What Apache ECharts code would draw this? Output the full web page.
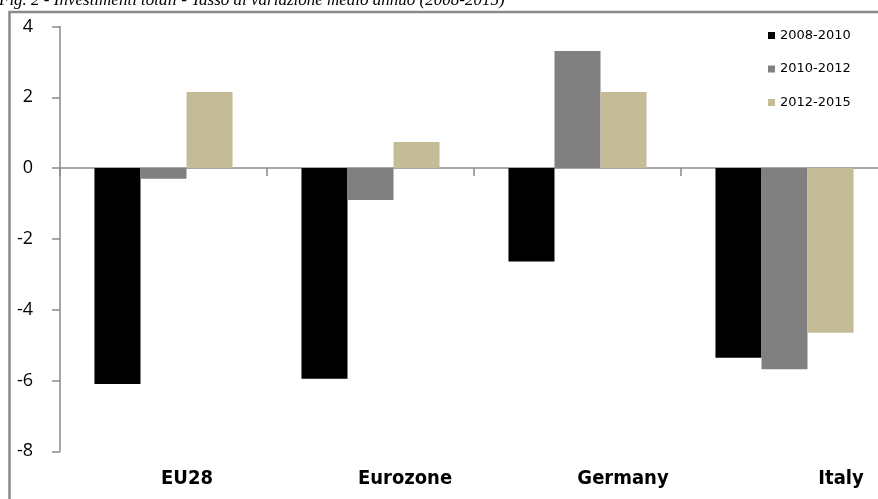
<!DOCTYPE html>
<html>
<head>
<meta charset="utf-8">
<script src="https://cdn.jsdelivr.net/npm/echarts@6/dist/echarts.min.js"></script>
<style>html,body{margin:0;padding:0;background:#fff;overflow:hidden;width:878px;height:499px;}#c{width:960px;height:499px;}</style>
</head>
<body>
<div id="c"></div>
<script>
var categories = ['EU28', 'Eurozone', 'Germany', 'Italy'];
var seriesNames = ['2008-2010', '2010-2012', '2012-2015'];
var s2008_2010 = [-6.10, -5.95, -2.64, -5.36];
var s2010_2012 = [-0.30, -0.90, 3.31, -5.68];
var s2012_2015 = [2.15, 0.74, 2.15, -4.65];
var yTicks = [-8, -6, -4, -2, 0, 2, 4];
var colors = ['#000000', '#808080', '#c4bc96'];

var chart = echarts.init(document.getElementById('c'), null, {renderer: 'canvas'});
var values = [s2008_2010, s2010_2012, s2012_2015];
var series = seriesNames.map(function (n, i) {
  return {
    name: n, type: 'bar', xAxisIndex: 0, yAxisIndex: 0,
    data: values[i], barGap: '0%', barCategoryGap: '33.3%',
    itemStyle: {color: colors[i]}, animation: false
  };
});
chart.setOption({
  animation: false,
  grid: [
    {left: 60, top: 26.5, width: 828, height: 424.8},
    {left: 78, top: 26.5, width: 872, height: 424.8}
  ],
  graphic: [
    {type: 'rect', shape: {x: 9.5, y: 12, width: 1000, height: 600}, style: {fill: 'none', stroke: '#8a8a8a', lineWidth: 2.5}, z: 0},
    {type: 'text', left: -1, top: -8, style: {text: 'Fig. 2 - Investimenti totali - Tasso di variazione medio annuo (2008-2015)', font: 'italic 17px "Liberation Serif"', fill: '#000'}}
  ],
  legend: {
    orient: 'vertical', left: 763, top: 24, itemWidth: 7, itemHeight: 7, itemGap: 20.5,
    icon: 'rect',
    textStyle: {fontFamily: 'DejaVu Sans', fontSize: 13, color: '#000'},
    data: seriesNames
  },
  xAxis: [
    {type: 'category', data: categories, position: 'bottom', gridIndex: 0,
     axisLine: {onZero: true, lineStyle: {color: '#8a8a8a', width: 1.5}},
     axisTick: {show: true, length: 8, lineStyle: {color: '#8a8a8a', width: 1.5}},
     axisLabel: {show: false}, splitLine: {show: false}},
    {type: 'category', data: categories, position: 'bottom', gridIndex: 1,
     axisLine: {show: false, onZero: false}, axisTick: {show: false},
     axisLabel: {show: true, margin: 17, fontFamily: '"DejaVu Sans Condensed", "Open Sans"', fontWeight: 'bold', fontSize: 20, color: '#000'}}
  ],
  yAxis: [
    {type: 'value', min: -8, max: 4, interval: 2, gridIndex: 0,
    axisLine: {show: true, lineStyle: {color: '#8a8a8a', width: 1.5}},
    axisTick: {show: true, length: 8, lineStyle: {color: '#8a8a8a', width: 1.5}},
    axisLabel: {margin: 27, fontFamily: 'Open Sans', fontSize: 18, color: '#000',
      formatter: function (v) { return yTicks.indexOf(v) >= 0 ? String(v) : ''; }},
    splitLine: {show: false}},
    {type: 'value', min: -8, max: 4, interval: 2, gridIndex: 1, show: false}
  ],
  series: series
});
</script>
</body>
</html>
